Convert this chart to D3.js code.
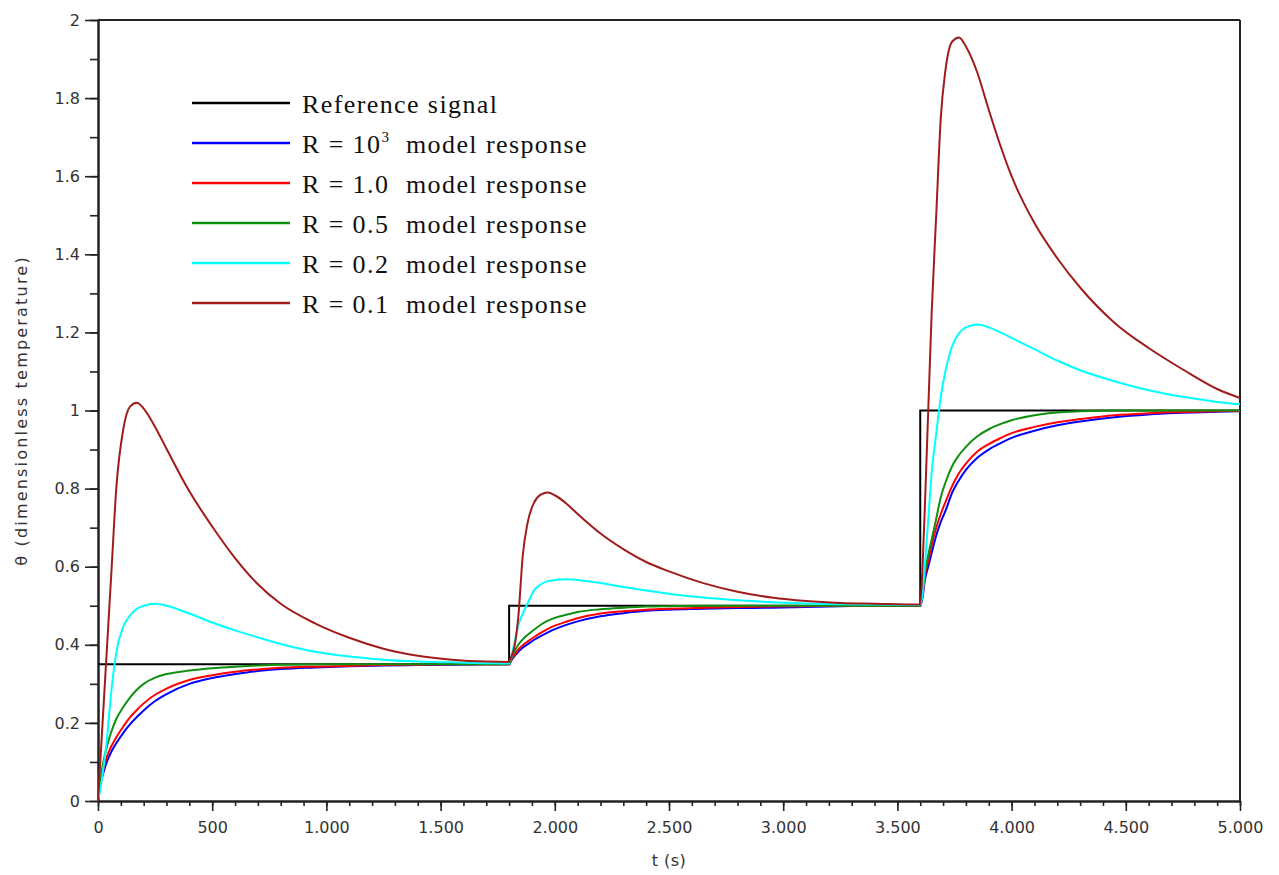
<!DOCTYPE html>
<html>
<head>
<meta charset="utf-8">
<script src="https://cdn.jsdelivr.net/npm/d3@7"></script>
<style>
    body { margin: 0; background: #fff; }
    svg { display: block; }
</style>
</head>
<body>
<svg id="chart" width="1279" height="875"></svg>
<script>
// sample times (s), shared by all model responses
const timeSteps = [
    0, 10, 25, 40, 60, 80, 110, 140, 170, 200, 250, 300, 400, 500, 600, 700, 800, 950, 1100, 1250, 1400, 1550, 1700, 1800,
    1810, 1825, 1840, 1860, 1880, 1910, 1940, 1970, 2000, 2050, 2100, 2200, 2300, 2400, 2500, 2650, 2800, 2950, 3100, 3250, 3400, 3600,
    3610, 3620, 3635, 3650, 3670, 3690, 3710, 3740, 3770, 3800, 3850, 3900, 3950, 4000, 4100, 4200, 4300, 4450, 4600, 4750, 4900, 5000
];

// reference step signal
const refTimes = [0, 1800, 1800, 3600, 3600, 5000];
const refValues = [0.35, 0.35, 0.5, 0.5, 1, 1];

const r1000Values = [
    0, 0.04, 0.075, 0.102, 0.128, 0.148, 0.174, 0.196, 0.215, 0.232, 0.256, 0.274, 0.30, 0.315, 0.325, 0.333, 0.338, 0.342, 0.345, 0.347, 0.348, 0.349, 0.35, 0.35,
    0.36, 0.372, 0.382, 0.393, 0.401, 0.413, 0.423, 0.432, 0.440, 0.451, 0.460, 0.473, 0.481, 0.487, 0.490, 0.492, 0.494, 0.495, 0.497, 0.499, 0.5, 0.5,
    0.52, 0.565, 0.6, 0.635, 0.68, 0.715, 0.742, 0.79, 0.822, 0.848, 0.879, 0.9, 0.916, 0.93, 0.948, 0.962, 0.972, 0.983, 0.99, 0.994, 0.997, 0.998
];
const r10Values = [
    0, 0.045, 0.085, 0.115, 0.142, 0.163, 0.19, 0.214, 0.233, 0.25, 0.272, 0.288, 0.31, 0.322, 0.331, 0.337, 0.341, 0.344, 0.346, 0.348, 0.349, 0.35, 0.35, 0.35,
    0.362, 0.376, 0.388, 0.399, 0.408, 0.42, 0.431, 0.441, 0.449, 0.459, 0.468, 0.48, 0.486, 0.49, 0.492, 0.495, 0.497, 0.498, 0.499, 0.5, 0.5, 0.5,
    0.53, 0.575, 0.615, 0.655, 0.7, 0.735, 0.765, 0.807, 0.84, 0.864, 0.895, 0.914, 0.929, 0.942, 0.958, 0.97, 0.978, 0.988, 0.993, 0.996, 0.998, 0.999
];
const r05Values = [
    0, 0.05, 0.105, 0.142, 0.18, 0.21, 0.24, 0.265, 0.285, 0.3, 0.316, 0.325, 0.334, 0.34, 0.344, 0.347, 0.349, 0.35, 0.35, 0.35, 0.35, 0.35, 0.35, 0.35,
    0.365, 0.385, 0.4, 0.414, 0.425, 0.439, 0.452, 0.462, 0.469, 0.477, 0.484, 0.491, 0.495, 0.498, 0.499, 0.5, 0.5, 0.5, 0.5, 0.5, 0.5, 0.5,
    0.535, 0.585, 0.63, 0.67, 0.723, 0.778, 0.815, 0.858, 0.886, 0.907, 0.934, 0.952, 0.965, 0.975, 0.988, 0.995, 0.998, 1, 1, 1, 1, 1
];
const r02Values = [
    0, 0.03, 0.09, 0.165, 0.29, 0.38, 0.445, 0.475, 0.492, 0.5, 0.505, 0.5, 0.48, 0.457, 0.437, 0.419, 0.402, 0.382, 0.37, 0.362, 0.357, 0.355, 0.353, 0.352,
    0.37, 0.41, 0.45, 0.48, 0.505, 0.54, 0.555, 0.563, 0.566, 0.568, 0.566, 0.558, 0.548, 0.539, 0.531, 0.521, 0.514, 0.509, 0.506, 0.504, 0.503, 0.502,
    0.53, 0.6, 0.72, 0.84, 0.94, 1.035, 1.1, 1.165, 1.198, 1.213, 1.22, 1.213, 1.2, 1.186, 1.157, 1.128, 1.103, 1.075, 1.052, 1.035, 1.022, 1.016
];
const r01Values = [
    0, 0.1, 0.25, 0.4, 0.6, 0.8, 0.95, 1.01, 1.02, 1.005, 0.958, 0.902, 0.793, 0.703, 0.622, 0.555, 0.505, 0.455, 0.418, 0.39, 0.372, 0.362, 0.357, 0.356,
    0.37, 0.40, 0.47, 0.63, 0.71, 0.765, 0.785, 0.79, 0.783, 0.762, 0.735, 0.685, 0.645, 0.612, 0.588, 0.558, 0.536, 0.521, 0.512, 0.507, 0.505, 0.503,
    0.6, 0.75, 1.0, 1.25, 1.5, 1.75, 1.87, 1.945, 1.955, 1.932, 1.865, 1.77, 1.68, 1.6, 1.48, 1.39, 1.315, 1.225, 1.16, 1.105, 1.055, 1.032
];

const xTickValues = [0, 500, 1000, 1500, 2000, 2500, 3000, 3500, 4000, 4500, 5000];
const xTickLabels = ["0", "500", "1.000", "1.500", "2.000", "2.500", "3.000", "3.500", "4.000", "4.500", "5.000"];
const yTickValues = [0, 0.2, 0.4, 0.6, 0.8, 1, 1.2, 1.4, 1.6, 1.8, 2];
const yTickLabels = ["0", "0.2", "0.4", "0.6", "0.8", "1", "1.2", "1.4", "1.6", "1.8", "2"];

const seriesNames = ["R = 10", "R = 1.0", "R = 0.5", "R = 0.2", "R = 0.1"];
const seriesColors = ["#0000ff", "#ff0000", "#109010", "#00ffff", "#a01c1c"];
const seriesValues = [r1000Values, r10Values, r05Values, r02Values, r01Values];

const svg = d3.select("#chart");
const margin = {top: 20, right: 39, bottom: 74, left: 98};
const width = 1279 - margin.left - margin.right;
const height = 875 - margin.top - margin.bottom;

const g = svg.append("g").attr("transform", `translate(${margin.left},${margin.top})`);

const x = d3.scaleLinear().domain([0, 5000]).range([0, width]);
const y = d3.scaleLinear().domain([0, 2]).range([height, 0]);

// minor ticks first, majors on top
const xMinor = d3.range(0, 5001, 100);
const yMinor = d3.range(0, 2.01, 0.1);

function styleAxis(sel) {
    sel.select(".domain").attr("stroke", "#222").attr("stroke-width", 2);
    sel.selectAll(".tick line").attr("stroke", "#222").attr("stroke-width", 1.6);
    sel.selectAll(".tick text")
        .attr("font-family", "'DejaVu Sans', sans-serif")
        .attr("font-size", 16)
        .attr("fill", "#333");
    sel.attr("font-family", null).attr("font-size", null);
}

g.append("g")
    .attr("transform", `translate(0,${height})`)
    .call(d3.axisBottom(x).tickValues(xMinor).tickSize(5).tickSizeOuter(0).tickFormat(""))
    .call(styleAxis);
g.append("g")
    .attr("transform", `translate(0,${height})`)
    .call(d3.axisBottom(x).tickValues(xTickValues).tickSize(10).tickSizeOuter(0).tickPadding(11)
        .tickFormat((d, i) => xTickLabels[i]))
    .call(styleAxis);

g.append("g")
    .call(d3.axisLeft(y).tickValues(yMinor).tickSize(8).tickSizeOuter(0).tickFormat(""))
    .call(styleAxis);
g.append("g")
    .call(d3.axisLeft(y).tickValues(yTickValues).tickSize(13).tickSizeOuter(0).tickPadding(5)
        .tickFormat((d, i) => yTickLabels[i]))
    .call(styleAxis);

// box: top and right edges
g.append("line")
    .attr("x1", x(0)).attr("x2", x(5000))
    .attr("y1", y(2)).attr("y2", y(2))
    .attr("stroke", "#222").attr("stroke-width", 2);
g.append("line")
    .attr("x1", x(5000)).attr("x2", x(5000))
    .attr("y1", y(0)).attr("y2", y(2))
    .attr("stroke", "#222").attr("stroke-width", 2);

// reference signal
const refLine = d3.line()
    .x((d, i) => x(refTimes[i]))
    .y(d => y(d));
g.append("path")
    .datum(refValues)
    .attr("d", refLine)
    .attr("fill", "none")
    .attr("stroke", "#000")
    .attr("stroke-width", 2);

// model responses
const modelLine = d3.line()
    .x((d, i) => x(timeSteps[i]))
    .y(d => y(d))
    .curve(d3.curveMonotoneX);

seriesValues.forEach((vals, k) => {
    g.append("path")
        .datum(vals)
        .attr("d", modelLine)
        .attr("fill", "none")
        .attr("stroke", seriesColors[k])
        .attr("stroke-width", 2);
});

// legend
const legend = svg.append("g").attr("transform", "translate(192,103)");
const rowGap = 40;
const legendFont = "'Liberation Serif', 'Times New Roman', serif";

const legendRows = [{color: "#000", name: "Reference signal"}].concat(
    seriesNames.map((n, k) => ({color: seriesColors[k], name: n, model: true, sup: k === 0}))
);

legendRows.forEach((row, i) => {
    const r = legend.append("g").attr("transform", `translate(0,${i * rowGap})`);
    r.append("line")
        .attr("x1", 0).attr("x2", 98)
        .attr("y1", 0).attr("y2", 0)
        .attr("stroke", row.color)
        .attr("stroke-width", 2.5);
    const t = r.append("text")
        .attr("x", 110)
        .attr("y", 10)
        .attr("font-family", legendFont)
        .attr("font-size", 26)
        .attr("letter-spacing", 1.4)
        .attr("fill", "#111")
        .text(row.name);
    if (row.sup) {
        t.append("tspan")
            .attr("dy", -11)
            .attr("font-size", 15)
            .text("3");
    }
    if (row.model) {
        r.append("text")
            .attr("x", 214)
            .attr("y", 10)
            .attr("font-family", legendFont)
            .attr("font-size", 26)
            .attr("letter-spacing", 1.4)
            .attr("fill", "#111")
            .text("model response");
    }
});

// axis titles
svg.append("text")
    .attr("transform", `translate(${margin.left + width / 2},866)`)
    .attr("text-anchor", "middle")
    .attr("font-family", "'DejaVu Sans', sans-serif")
    .attr("font-size", 16)
    .attr("letter-spacing", 0.5)
    .attr("fill", "#333")
    .text("t (s)");

svg.append("text")
    .attr("transform", `translate(27,${margin.top + height / 2}) rotate(-90)`)
    .attr("text-anchor", "middle")
    .attr("font-family", "'DejaVu Sans', sans-serif")
    .attr("font-size", 16)
    .attr("letter-spacing", 2.2)
    .attr("fill", "#333")
    .text("θ (dimensionless temperature)");
</script>
</body>
</html>
